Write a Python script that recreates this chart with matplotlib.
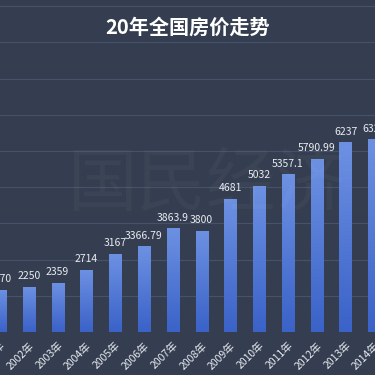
import numpy as np
import matplotlib.pyplot as plt
from matplotlib.colors import LinearSegmentedColormap

plt.rcParams['font.family'] = ['Noto Sans CJK SC', 'DejaVu Sans']

# 数据
years = ["2001年", "2002年", "2003年", "2004年", "2005年", "2006年", "2007年",
         "2008年", "2009年", "2010年", "2011年", "2012年", "2013年", "2014年"]
prices = [2170, 2250, 2359, 2714, 3167, 3366.79, 3863.9,
          3800, 4681, 5032, 5357.1, 5790.99, 6237, 6324]
labels = ["2170", "2250", "2359", "2714", "3167", "3366.79", "3863.9",
          "3800", "4681", "5032", "5357.1", "5790.99", "6237", "6324"]

bg = '#353e50'
fig = plt.figure(figsize=(3.75, 3.75), dpi=100, facecolor=bg)
ax = fig.add_axes([0, 43 / 375, 1, 332 / 375])
ax.set_facecolor(bg)

x = np.arange(len(years))
ax.set_xlim(4 / 29.1, 379 / 29.1)
ax.set_ylim(1000, 1000 + 332 / 0.0362)

# 网格线
for g in range(1000, 10001, 1000):
    ax.axhline(g, color='#46516a', lw=0.8, zorder=0)

# 水印
fig.text(0.55, 0.505, "国民经济", fontsize=50, color='white', alpha=0.03,
         ha='center', va='center')

# 渐变柱子
bars = ax.bar(x, prices, width=0.42, bottom=0, color='none', zorder=2)
grad = np.linspace(0, 1, 256).reshape(-1, 1)
cmap = LinearSegmentedColormap.from_list('b', ['#3a62c8', '#6d91e2'])
for b in bars:
    x0 = b.get_x()
    w = b.get_width()
    h = b.get_height()
    im = ax.imshow(grad, extent=[x0, x0 + w, 1000, h], origin='lower',
                   cmap=cmap, aspect='auto', zorder=2)
    im.set_clip_path(b)

for xi, v, s in zip(x, prices, labels):
    ax.annotate(s, (xi, v), xytext=(0, 4), textcoords='offset points',
                ha='center', va='bottom', color='#e8ecf2', fontsize=7.5)

ax.set_xticks(x)
ax.set_xticklabels(years, rotation=45, ha='right', rotation_mode='anchor',
                   color='#e8ecf2', fontsize=7.5)
ax.tick_params(axis='x', length=0, pad=6)
ax.set_yticks([])
for sp in ax.spines.values():
    sp.set_visible(False)

fig.text(0.5, 0.928, "20年全国房价走势", fontsize=14.5, color='white',
         ha='center', va='center', fontweight='bold')

fig.savefig('out.png', dpi=100, facecolor=bg)
